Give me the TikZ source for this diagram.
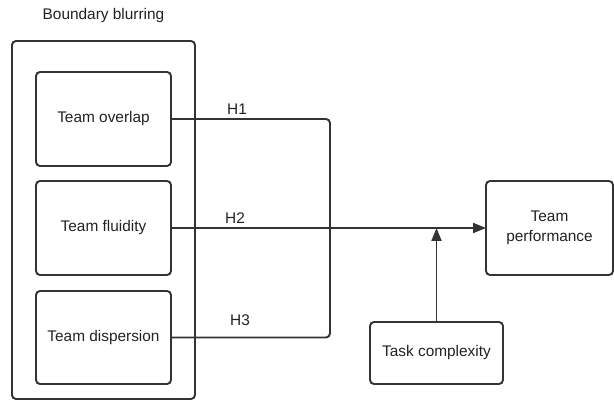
\documentclass[tikz,border=0pt]{standalone}
\usepackage{fontspec}
\setmainfont{Liberation Sans}
\usetikzlibrary{arrows.meta}
\definecolor{ln}{HTML}{333333}
\definecolor{tx}{HTML}{222222}
\begin{document}
\begin{tikzpicture}[x=1pt,y=-1pt,
  box/.style={draw=ln, line width=1.9pt, rounded corners=4pt, inner sep=0pt, outer sep=0pt, align=center,
    font=\fontsize{15.4}{19.5}\selectfont, text=tx},
  conn/.style={draw=ln, line width=1.9pt},
  lbl/.style={font=\fontsize{15.4}{18}\selectfont, text=tx, inner sep=0pt}]
\useasboundingbox (0,0) rectangle (614,401);
\node[box, minimum width=183pt, minimum height=358pt] (outer) at (103.5,220) {};
\node[lbl] (title) at (103.5,16) {Boundary blurring};
\node[box, minimum width=135pt, minimum height=94pt] (ov) at (103.5,119) {Team overlap};
\node[box, minimum width=135pt, minimum height=94pt] (fl) at (103.5,228) {Team fluidity};
\node[box, minimum width=135pt, minimum height=93pt] (di) at (103.5,337.5) {Team dispersion};
\node[box, minimum width=127pt, minimum height=94pt] (perf) at (549.5,228) {Team\\performance};
\node[box, minimum width=133pt, minimum height=62pt] (task) at (436.5,353) {Task complexity};
\coordinate (j) at (330,228);
\draw[conn, rounded corners=4pt] (ov.east) -| (j);
\draw[conn, rounded corners=4pt] (di.east) -| (j);
\draw[conn, -{Triangle[length=13pt,width=10pt]}] (fl.east) -- (perf.west);
\draw[conn, -{Triangle[length=13pt,width=10pt]}] (task.north) -- (task.north |- fl.east);
\node[lbl] (h1) at (237,109) {H1};
\node[lbl] (h2) at (235,218) {H2};
\node[lbl] (h3) at (240,320) {H3};
\end{tikzpicture}
\end{document}
